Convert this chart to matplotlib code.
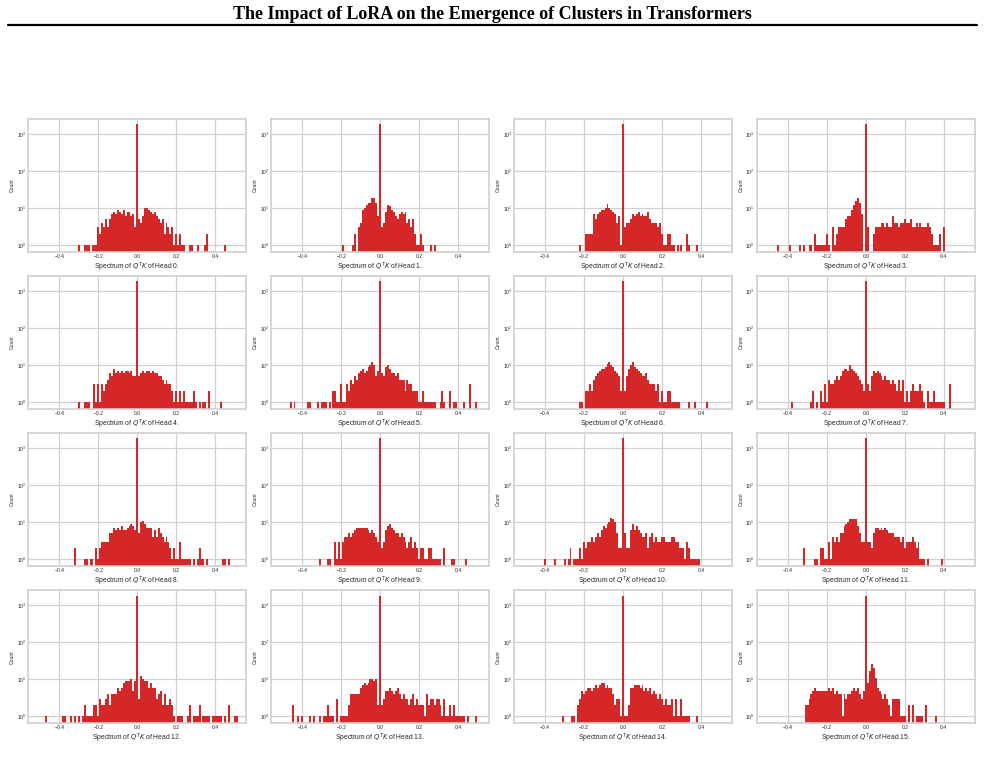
import numpy as np
import matplotlib
matplotlib.use("Agg")
import matplotlib.pyplot as plt
from matplotlib.lines import Line2D

# histogram counts of the eigenvalues, bin width 0.01, bin k is centred at k*0.01
# hN_left = bins k=-len(left)..-1, hN_right = bins k=1..len(right), zero_counts = bin k=0
bin_width = 0.01

zero_counts = [1850, 1850, 1850, 1850, 1850, 1850, 1850, 1850,
               1850, 1850, 1850, 1850, 1850, 1850, 1850, 1850]

h0_left = [1, 0, 0, 1, 1, 1, 0, 1, 1, 1, 3, 2, 4, 3, 5, 3, 5, 7, 8, 7,
           9, 8, 7, 9, 6, 8, 8, 6, 7, 3]
h0_right = [5, 4, 6, 10, 10, 9, 8, 7, 8, 6, 5, 4, 5, 2, 4, 3, 2, 3, 1, 2,
            1, 2, 1, 1, 0, 0, 1, 1, 0, 0, 1, 0, 0, 0, 1, 2, 0, 0, 0, 0,
            0, 0, 0, 0, 1]

h1_left = [1, 0, 0, 0, 0, 1, 2, 0, 3, 4, 9, 10, 12, 14, 14, 19, 19, 14, 6]
h1_right = [3, 4, 8, 12, 11, 9, 8, 6, 5, 7, 8, 7, 8, 4, 5, 3, 5, 2, 1, 1,
            2, 1, 0, 0, 0, 1, 0, 1]

h2_left = [1, 0, 0, 2, 2, 2, 2, 7, 5, 7, 8, 9, 9, 10, 13, 10, 9, 8, 7, 4, 6, 1]
h2_right = [3, 4, 4, 5, 7, 6, 7, 8, 6, 7, 6, 6, 8, 5, 4, 4, 4, 3, 4, 2,
            1, 1, 2, 2, 1, 1, 0, 1, 0, 1, 0, 0, 2, 1, 0, 0, 0, 1]

h3_left = [1, 0, 0, 0, 0, 0, 1, 0, 0, 0, 0, 1, 0, 1, 0, 0, 1, 1, 0, 2,
           1, 1, 1, 1, 1, 2, 1, 0, 3, 1, 2, 3, 3, 3, 3, 5, 6, 6, 9, 12,
           15, 19, 14, 7, 0]
h3_right = [3, 0, 0, 2, 3, 3, 3, 4, 4, 3, 4, 3, 3, 6, 4, 4, 3, 4, 4, 5,
            4, 4, 5, 3, 3, 4, 3, 4, 3, 3, 3, 4, 3, 2, 1, 1, 1, 2, 0, 3]

h4_left = [1, 0, 0, 1, 1, 1, 0, 0, 3, 1, 3, 1, 3, 2, 3, 4, 6, 5, 8, 6,
           7, 6, 7, 6, 7, 7, 6, 7, 5, 5]
h4_right = [5, 6, 7, 6, 7, 7, 6, 7, 6, 6, 5, 5, 4, 3, 4, 3, 3, 2, 1, 2,
            1, 2, 1, 2, 1, 1, 1, 1, 2, 1, 0, 1, 0, 1, 1, 0, 2, 0, 0, 0,
            0, 0, 1]

h5_left = [1, 0, 1, 0, 0, 0, 0, 0, 0, 1, 1, 0, 0, 0, 1, 0, 1, 1, 1, 0,
           1, 0, 2, 2, 1, 1, 3, 1, 1, 3, 2, 4, 3, 5, 4, 6, 7, 8, 6, 7,
           9, 10, 12, 10, 5, 7]
h5_right = [6, 5, 9, 10, 8, 6, 6, 5, 6, 4, 4, 4, 2, 4, 3, 3, 2, 2, 2, 1,
            1, 2, 1, 1, 1, 1, 1, 1, 0, 0, 1, 2, 1, 0, 0, 2, 0, 1, 1, 0,
            0, 0, 1, 0, 0, 3, 0, 0, 1]

h6_left = [1, 1, 0, 2, 2, 3, 2, 4, 5, 6, 7, 8, 8, 9, 11, 12, 10, 9, 7, 6, 5, 2]
h6_right = [2, 5, 8, 10, 12, 9, 8, 7, 6, 5, 5, 6, 4, 3, 3, 3, 2, 3, 1, 2,
            1, 1, 2, 2, 1, 1, 1, 1, 1, 0, 0, 0, 0, 1, 0, 0, 1, 0, 0, 0,
            0, 0, 1]

h7_left = [1, 0, 0, 0, 0, 0, 0, 0, 0, 0, 1, 2, 0, 1, 0, 2, 1, 3, 1, 4,
           3, 3, 4, 5, 4, 5, 7, 8, 8, 7, 10, 8, 7, 6, 5, 4, 3, 2]
h7_right = [3, 2, 5, 7, 6, 7, 6, 5, 4, 5, 4, 4, 3, 4, 3, 2, 4, 2, 4, 1,
            2, 1, 2, 3, 2, 2, 2, 3, 2, 1, 0, 2, 1, 1, 2, 1, 1, 1, 1, 1,
            0, 0, 3]

h8_left = [2, 0, 0, 0, 0, 1, 1, 0, 1, 1, 0, 2, 1, 2, 3, 3, 3, 3, 5, 5,
           7, 6, 7, 6, 8, 6, 6, 7, 8, 9, 8, 6]
h8_right = [5, 10, 11, 9, 7, 7, 7, 4, 6, 4, 7, 5, 4, 3, 4, 3, 2, 1, 2, 1,
            1, 3, 1, 1, 1, 1, 1, 0, 1, 0, 1, 2, 1, 1, 0, 1, 0, 0, 0, 0,
            0, 0, 0, 1, 1, 0, 1]

h9_left = [1, 0, 0, 0, 1, 1, 0, 0, 3, 1, 3, 1, 3, 4, 4, 5, 4, 5, 6, 7,
           7, 7, 7, 7, 7, 6, 5, 6, 5, 4, 3]
h9_right = [2, 3, 6, 8, 9, 7, 6, 5, 5, 4, 5, 4, 3, 2, 3, 4, 2, 3, 2, 1,
            2, 2, 1, 1, 2, 2, 1, 1, 1, 1, 1, 0, 2, 0, 0, 0, 1, 1, 0, 0,
            0, 0, 0, 1]

h10_left = [1, 0, 0, 0, 0, 1, 0, 0, 0, 0, 1, 0, 1, 2, 0, 1, 1, 1, 2, 1,
            3, 2, 3, 3, 4, 3, 4, 5, 4, 6, 8, 7, 9, 10, 13, 12, 10, 5, 2, 2]
h10_right = [5, 2, 2, 6, 9, 6, 8, 6, 5, 4, 4, 5, 2, 4, 5, 3, 4, 3, 3, 4,
             4, 3, 3, 3, 4, 4, 3, 3, 2, 2, 2, 1, 3, 2, 1, 1, 1, 1, 1]

h11_left = [2, 0, 0, 0, 0, 0, 1, 1, 0, 2, 2, 1, 1, 3, 1, 4, 3, 4, 3, 5,
            5, 8, 9, 10, 12, 12, 12, 12, 8, 5, 3, 3]
h11_right = [3, 3, 2, 5, 7, 7, 6, 7, 6, 7, 6, 5, 5, 5, 4, 4, 4, 3, 4, 2,
             3, 3, 3, 4, 3, 2, 3, 1, 1, 1, 0, 1, 0, 0, 0, 0, 0, 0, 1]

h12_left = [1, 0, 0, 0, 0, 0, 0, 0, 0, 1, 1, 0, 0, 1, 0, 1, 0, 1, 0, 1,
            2, 1, 1, 1, 1, 2, 2, 1, 3, 2, 2, 3, 4, 2, 4, 4, 4, 6, 5, 6,
            8, 9, 9, 9, 10, 5, 9]
h12_right = [3, 12, 10, 9, 9, 6, 8, 6, 6, 3, 4, 5, 2, 4, 2, 2, 3, 2, 1, 0,
             1, 1, 1, 0, 0, 1, 2, 0, 1, 1, 1, 2, 0, 1, 1, 1, 1, 0, 1, 1,
             1, 1, 1, 0, 1, 0, 2, 0, 0, 1, 1]

h13_left = [2, 0, 0, 1, 0, 1, 0, 0, 0, 1, 0, 1, 0, 0, 1, 0, 1, 1, 2, 1,
            1, 1, 0, 3, 0, 1, 1, 1, 1, 2, 4, 4, 4, 4, 4, 6, 7, 8, 7, 8,
            10, 10, 9, 10, 2]
h13_right = [2, 3, 5, 5, 6, 5, 4, 5, 6, 4, 3, 4, 3, 3, 2, 3, 4, 2, 3, 2,
             2, 2, 1, 4, 2, 3, 3, 2, 3, 3, 2, 1, 3, 1, 1, 2, 1, 2, 1, 1,
             1, 1, 1, 0, 1, 0, 0, 0, 1]

h14_left = [1, 0, 0, 0, 0, 1, 1, 0, 2, 3, 5, 4, 5, 6, 6, 5, 6, 7, 6, 7,
            8, 8, 6, 7, 6, 6, 4, 2, 3, 3, 1]
h14_right = [1, 1, 2, 6, 6, 7, 7, 7, 6, 7, 5, 6, 5, 6, 4, 5, 4, 3, 4, 3,
             2, 3, 2, 2, 3, 1, 3, 1, 1, 3, 1, 1, 1, 1, 0, 0, 0, 1]

h15_left = [2, 2, 3, 4, 5, 6, 5, 5, 5, 5, 5, 5, 6, 5, 6, 4, 5, 4, 4, 1,
            4, 3, 4, 4, 5, 6, 5, 6, 4, 3, 5]
h15_right = [8, 17, 26, 20, 11, 6, 5, 4, 3, 4, 3, 2, 1, 3, 3, 3, 3, 1, 1, 1,
             0, 2, 0, 2, 0, 1, 1, 1, 1, 0, 2, 0, 0, 0, 0, 1]

heads_left = [h0_left, h1_left, h2_left, h3_left, h4_left, h5_left, h6_left, h7_left,
              h8_left, h9_left, h10_left, h11_left, h12_left, h13_left, h14_left, h15_left]
heads_right = [h0_right, h1_right, h2_right, h3_right, h4_right, h5_right, h6_right, h7_right,
               h8_right, h9_right, h10_right, h11_right, h12_right, h13_right, h14_right, h15_right]

bar_color = '#d62728'

plt.style.use('seaborn-v0_8-whitegrid')
plt.rcParams['font.family'] = ['Liberation Sans', 'DejaVu Sans']
plt.rcParams['mathtext.fontset'] = 'dejavusans'

fig = plt.figure(figsize=(9.85, 7.66), dpi=100)
gs = fig.add_gridspec(4, 4, left=0.0287, right=0.9898, top=0.8446, bottom=0.0561,
                      wspace=0.114, hspace=0.185)

for i in range(16):
    ax = fig.add_subplot(gs[i // 4, i % 4])
    left = heads_left[i]
    right = heads_right[i]
    k = np.arange(-len(left), len(right) + 1)
    centers = k * bin_width
    edges = (np.arange(-len(left), len(right) + 2) - 0.5) * bin_width
    weights = left + [zero_counts[i]] + right
    ax.hist(centers, bins=edges, weights=weights, log=True, color=bar_color, linewidth=0)

    ax.set_xlim(-0.56, 0.56)
    ax.set_ylim(0.66, 2540)
    ax.set_xticks([-0.4, -0.2, 0.0, 0.2, 0.4])
    ax.tick_params(axis='both', labelsize=3.6, pad=1.5, colors='#262626')
    ax.set_xlabel(r'Spectrum of $Q^TK$ of Head %d.' % i, fontsize=4.9, labelpad=1.5)
    ax.set_ylabel('Count', fontsize=3.6, labelpad=1.5)
    ax.grid(True, color='#d0d0d0', linewidth=0.9)
    for s in ax.spines.values():
        s.set_color('#d0d0d0')
        s.set_linewidth(1.2)

fig.text(0.5, 1 - 14.5 / 766, 'The Impact of LoRA on the Emergence of Clusters in Transformers',
         ha='center', va='center', fontsize=13, fontweight='bold', family='Liberation Serif',
         color='black')
fig.add_artist(Line2D([8 / 985, 977 / 985], [1 - 24.5 / 766, 1 - 24.5 / 766],
                      color='black', linewidth=1.6))

fig.savefig('out.png', dpi=100)
